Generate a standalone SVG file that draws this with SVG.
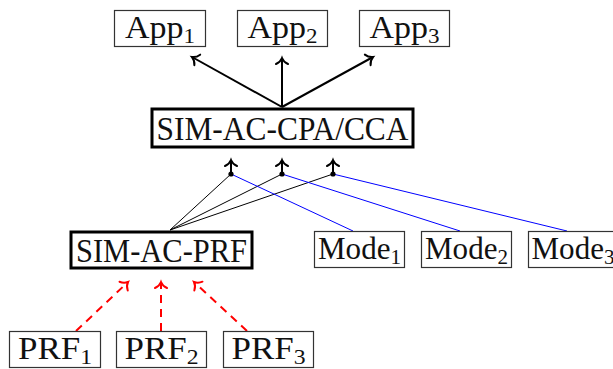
<svg xmlns="http://www.w3.org/2000/svg" width="613" height="369" viewBox="0 0 613 369">
  <style>
    .box { fill: #fff; stroke: #333; stroke-width: 1.2; }
    .main { fill: #fff; stroke: #000; stroke-width: 3; }
    .lbl { font-family: "Liberation Serif", "DejaVu Serif", serif; font-size: 31px; fill: #111; text-anchor: middle; }
    .big { font-size: 34px; }
    .sub { font-size: 21px; }
    .up { fill: none; stroke: #000; stroke-width: 2; marker-end: url(#tip); }
    .thin { fill: none; stroke: #000; stroke-width: 1; }
    .blue { fill: none; stroke: #0000ff; stroke-width: 1; }
    .red { fill: none; stroke: #ff0000; stroke-width: 2; stroke-dasharray: 8 6; marker-end: url(#tipRed); }
  </style>
  <defs>
    <marker id="tip" markerUnits="userSpaceOnUse" markerWidth="16" markerHeight="16" viewBox="-8 -8 16 16" refX="0" refY="0" orient="auto">
      <path d="M-6,-6 C-4.5,-2.5 -1.5,-0.6 0,0 C-1.5,0.6 -4.5,2.5 -6,6" fill="none" stroke="#000" stroke-width="2" stroke-linecap="round"/>
    </marker>
    <marker id="tipRed" markerUnits="userSpaceOnUse" markerWidth="16" markerHeight="16" viewBox="-8 -8 16 16" refX="0" refY="0" orient="auto">
      <path d="M-6,-6 C-4.5,-2.5 -1.5,-0.6 0,0 C-1.5,0.6 -4.5,2.5 -6,6" fill="none" stroke="#ff0000" stroke-width="2" stroke-linecap="round"/>
    </marker>
  </defs>

  <!-- connectors -->
  <g id="connectors">
    <!-- CPA/CCA to applications -->
    <line class="up" x1="282" y1="107" x2="192" y2="57"/>
    <line class="up" x1="282" y1="107" x2="282" y2="58"/>
    <line class="up" x1="282" y1="107" x2="373" y2="57"/>
    <!-- combination points feeding CPA/CCA -->
    <line class="up" x1="231" y1="174" x2="231" y2="160"/>
    <line class="up" x1="282" y1="174" x2="282" y2="160"/>
    <line class="up" x1="333" y1="174" x2="333" y2="160"/>
    <!-- PRF output to each point -->
    <line class="thin" x1="170" y1="230" x2="231" y2="174"/>
    <line class="thin" x1="170" y1="230" x2="282" y2="174"/>
    <line class="thin" x1="170" y1="230" x2="333" y2="174"/>
    <!-- modes to each point -->
    <line class="blue" x1="353" y1="231" x2="231" y2="174"/>
    <line class="blue" x1="460" y1="231" x2="282" y2="174"/>
    <line class="blue" x1="567" y1="231" x2="333" y2="174"/>
    <circle cx="231" cy="174" r="2.6" fill="#000"/>
    <circle cx="282" cy="174" r="2.6" fill="#000"/>
    <circle cx="333" cy="174" r="2.6" fill="#000"/>
    <!-- PRF instances to SIM-AC-PRF -->
    <line class="red" x1="76" y1="331" x2="128" y2="282"/>
    <line class="red" x1="161" y1="331" x2="161" y2="282"/>
    <line class="red" x1="247" y1="331" x2="194" y2="282"/>
  </g>

  <!-- applications -->
  <g id="app1">
    <rect class="box" x="114.5" y="10.5" width="91" height="36"/>
    <text class="lbl" x="160" y="38" textLength="70" lengthAdjust="spacingAndGlyphs">App<tspan class="sub" dy="5">1</tspan></text>
  </g>
  <g id="app2">
    <rect class="box" x="237.5" y="10.5" width="90" height="36"/>
    <text class="lbl" x="282.5" y="38" textLength="70" lengthAdjust="spacingAndGlyphs">App<tspan class="sub" dy="5">2</tspan></text>
  </g>
  <g id="app3">
    <rect class="box" x="359.5" y="10.5" width="90" height="36"/>
    <text class="lbl" x="404.5" y="38" textLength="70" lengthAdjust="spacingAndGlyphs">App<tspan class="sub" dy="5">3</tspan></text>
  </g>

  <!-- combined scheme -->
  <g id="cpa">
    <rect class="main" x="152" y="109" width="261" height="38"/>
    <text class="lbl big" x="282.5" y="139.5" textLength="252" lengthAdjust="spacingAndGlyphs">SIM-AC-CPA/CCA</text>
  </g>

  <!-- PRF scheme -->
  <g id="prf">
    <rect class="main" x="71" y="232" width="181" height="36"/>
    <text class="lbl big" x="161.5" y="261.5" textLength="171" lengthAdjust="spacingAndGlyphs">SIM-AC-PRF</text>
  </g>

  <!-- modes -->
  <g id="mode1">
    <rect class="box" x="314.5" y="231.5" width="90" height="36"/>
    <text class="lbl" x="359.5" y="259" textLength="83" lengthAdjust="spacingAndGlyphs">Mode<tspan class="sub" dy="5">1</tspan></text>
  </g>
  <g id="mode2">
    <rect class="box" x="421.5" y="231.5" width="90" height="36"/>
    <text class="lbl" x="466.5" y="259" textLength="83" lengthAdjust="spacingAndGlyphs">Mode<tspan class="sub" dy="5">2</tspan></text>
  </g>
  <g id="mode3">
    <rect class="box" x="528.5" y="231.5" width="92" height="36"/>
    <text class="lbl" x="573" y="259" textLength="83" lengthAdjust="spacingAndGlyphs">Mode<tspan class="sub" dy="5">3</tspan></text>
  </g>

  <!-- PRF instances -->
  <g id="prf1">
    <rect class="box" x="9.5" y="331.5" width="91" height="36"/>
    <text class="lbl" x="55" y="359" textLength="74" lengthAdjust="spacingAndGlyphs">PRF<tspan class="sub" dy="5">1</tspan></text>
  </g>
  <g id="prf2">
    <rect class="box" x="116.5" y="331.5" width="90" height="36"/>
    <text class="lbl" x="161.5" y="359" textLength="74" lengthAdjust="spacingAndGlyphs">PRF<tspan class="sub" dy="5">2</tspan></text>
  </g>
  <g id="prf3">
    <rect class="box" x="223.5" y="331.5" width="90" height="36"/>
    <text class="lbl" x="268.5" y="359" textLength="74" lengthAdjust="spacingAndGlyphs">PRF<tspan class="sub" dy="5">3</tspan></text>
  </g>
</svg>
